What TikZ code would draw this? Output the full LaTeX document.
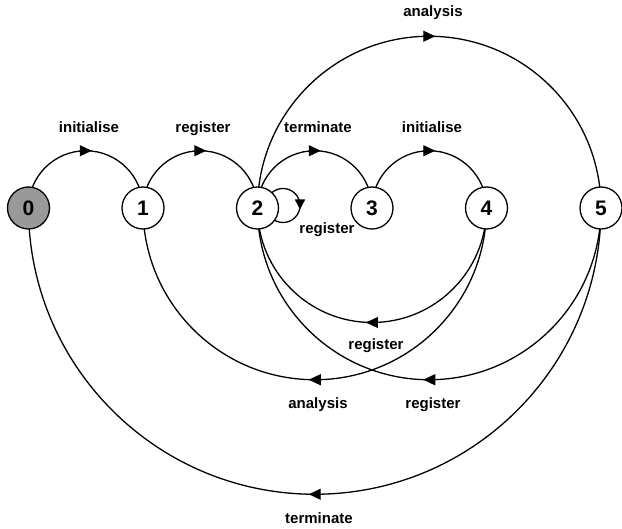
\documentclass[tikz,border=0pt]{standalone}
\usepackage{fontspec}
\setmainfont{Liberation Sans}
\usetikzlibrary{arrows.meta,decorations.markings,calc}
\pgfdeclarelayer{background}
\pgfsetlayers{background,main}
\begin{document}
\begin{tikzpicture}[x=1pt,y=1pt,
  state/.style={circle,draw,line width=1.3pt,fill=white,minimum size=42pt,inner sep=0pt,
    font=\fontsize{21}{21}\selectfont\bfseries},
  lbl/.style={font=\fontsize{15}{15}\selectfont\bfseries,inner sep=0pt,text height=11pt,text depth=3.2pt},
  edge/.style={line width=1.3pt,postaction={decorate},
    decoration={markings,mark=at position 0.5 with {\arrow[xshift=6pt]{Triangle[length=12pt,width=11pt]}}}},
  loopedge/.style={line width=1.3pt,postaction={decorate},
    decoration={markings,mark=at position 0.25 with {\arrow[xshift=4pt]{Triangle[length=10pt,width=10pt]}}}}
]
\useasboundingbox (0,0) rectangle (622,-529);

% states
\node[state,fill=gray!80] (n0) at (28.5,-208) {0};
\node[state] (n1) at (143,-208) {1};
\node[state] (n2) at (257.5,-208) {2};
\node[state] (n3) at (372,-208) {3};
\node[state] (n4) at (486.5,-208) {4};
\node[state] (n5) at (601,-208) {5};

% labels
\node[lbl] (l01) at (89,-129) {initialise};
\node[lbl] (l12) at (203,-129) {register};
\node[lbl] (l23) at (318,-129) {terminate};
\node[lbl] (l34) at (432,-129) {initialise};
\node[lbl] (l25) at (433,-13) {analysis};
\node[lbl] (l22) at (327,-230) {register};
\node[lbl] (l42) at (376,-346) {register};
\node[lbl] (l41) at (318,-405) {analysis};
\node[lbl] (l52) at (433,-405) {register};
\node[lbl] (l50) at (319,-520) {terminate};

\begin{pgfonlayer}{background}
\fill[white] (0,0) rectangle (622,-529);
% upper arcs, left to right
\draw[edge] let \p1=(n0.center),\p2=(n1.center),\n1={(\x2-\x1)/2} in (\p1) arc[start angle=180,end angle=0,radius=\n1];
\draw[edge] let \p1=(n1.center),\p2=(n2.center),\n1={(\x2-\x1)/2} in (\p1) arc[start angle=180,end angle=0,radius=\n1];
\draw[edge] let \p1=(n2.center),\p2=(n3.center),\n1={(\x2-\x1)/2} in (\p1) arc[start angle=180,end angle=0,radius=\n1];
\draw[edge] let \p1=(n3.center),\p2=(n4.center),\n1={(\x2-\x1)/2} in (\p1) arc[start angle=180,end angle=0,radius=\n1];
\draw[edge] let \p1=(n2.center),\p2=(n5.center),\n1={(\x2-\x1)/2} in (\p1) arc[start angle=180,end angle=0,radius=\n1];
% lower arcs, right to left
\draw[edge] let \p1=(n4.center),\p2=(n2.center),\n1={(\x1-\x2)/2} in (\p1) arc[start angle=0,end angle=-180,radius=\n1];
\draw[edge] let \p1=(n4.center),\p2=(n1.center),\n1={(\x1-\x2)/2} in (\p1) arc[start angle=0,end angle=-180,radius=\n1];
\draw[edge] let \p1=(n5.center),\p2=(n2.center),\n1={(\x1-\x2)/2} in (\p1) arc[start angle=0,end angle=-180,radius=\n1];
\draw[edge] let \p1=(n5.center),\p2=(n0.center),\n1={(\x1-\x2)/2} in (\p1) arc[start angle=0,end angle=-180,radius=\n1];
% self loop on 2
\draw[loopedge] ([xshift=25.5pt,yshift=19.5pt]n2.center) arc[start angle=90,end angle=-270,radius=17pt];
\end{pgfonlayer}
\end{tikzpicture}
\end{document}
